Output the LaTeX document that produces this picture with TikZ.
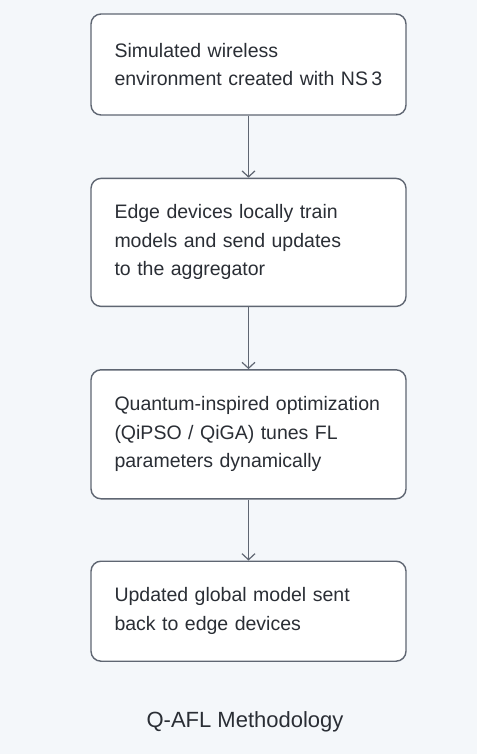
\documentclass[tikz,border=0pt]{standalone}
\usepackage{fontspec}
\setmainfont{Liberation Sans}
\usepackage{xcolor}
\usepackage{tikz}
\usetikzlibrary{arrows.meta,positioning}
\definecolor{pagebg}{HTML}{F4F7FA}
\definecolor{boxline}{HTML}{5F6672}
\definecolor{inktext}{HTML}{2A2E35}

\tikzset{
    stage/.style={draw=boxline, line width=1.4pt, rounded corners=10pt, fill=white,
        text width=268pt, inner xsep=23.5pt, inner ysep=0pt, align=left,
        text=inktext, font=\fontsize{19.5}{28.5}\selectfont},
    flow/.style={draw=boxline, line width=1.2pt, -{Straight Barb[length=6pt,width=13pt,line width=1.2pt]}}
}

\begin{document}
\begin{tikzpicture}[node distance=62pt]
    \fill[pagebg] (0,0) rectangle (477pt,-754pt);
    \useasboundingbox (0,0) rectangle (477pt,-754pt);

    \node[stage, minimum height=101pt] (sim) at (248.5pt,-64.5pt)
        {Simulated wireless\\environment created with NS\,3};
    \node[stage, minimum height=128pt, below=of sim] (edge)
        {Edge devices locally train\\models and send updates\\to the aggregator};
    \node[stage, minimum height=129pt, below=of edge] (qopt)
        {Quantum-inspired optimization\\(QiPSO / QiGA) tunes FL\\parameters dynamically};
    \node[stage, minimum height=100pt, below=61pt of qopt] (glob)
        {Updated global model sent\\back to edge devices};

    \draw[flow] (sim) -- (edge);
    \draw[flow] (edge) -- (qopt);
    \draw[flow] (qopt) -- (glob);

    \node[text=inktext, font=\fontsize{22}{26}\selectfont] (title) at (245pt,-722pt) {Q-AFL Methodology};
\end{tikzpicture}
\end{document}
